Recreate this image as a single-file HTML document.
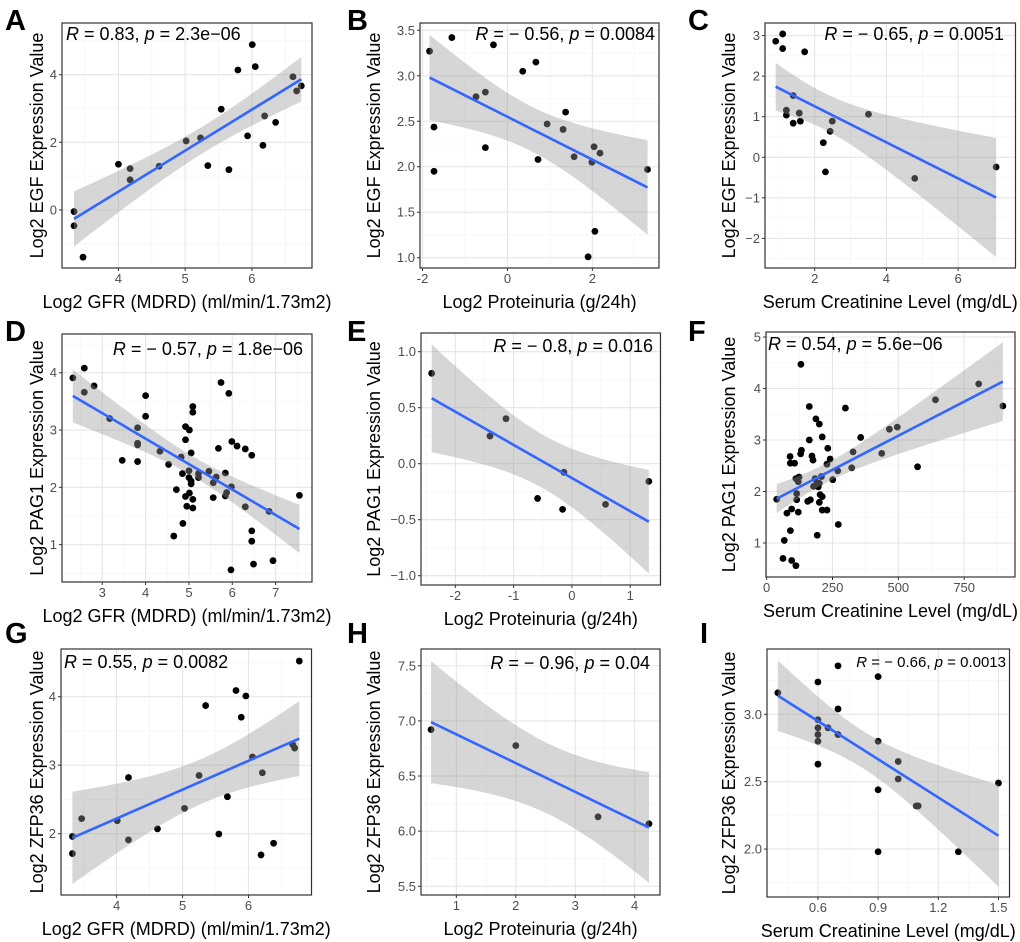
<!DOCTYPE html>
<html><head><meta charset="utf-8"><style>
html,body{margin:0;padding:0;background:#fff;}
svg{display:block;font-family:"Liberation Sans",Arial,sans-serif;}
</style></head><body>
<svg id="fig" width="1020" height="942" viewBox="0 0 1020 942" xmlns="http://www.w3.org/2000/svg"></svg>
<script>
// ---- data ----
const aX=[3.335,3.335,3.47,4.0,4.175,4.175,4.61,5.015,5.23,5.34,5.54,5.655,5.79,5.935,6.005,6.05,6.165,6.19,6.355,6.615,6.67,6.74];
const aY=[-0.05,-0.47,-1.40,1.35,1.22,0.89,1.29,2.04,2.13,1.31,2.98,1.19,4.14,2.19,4.89,4.24,1.91,2.78,2.59,3.94,3.52,3.67];
const bX=[-1.835,-1.73,-1.73,-1.31,-0.74,-0.52,-0.52,-0.33,0.36,0.67,0.72,0.935,1.31,1.37,1.57,1.90,1.99,2.04,2.06,2.18,3.30];
const bY=[3.27,2.436,1.95,3.42,2.77,2.82,2.21,3.34,3.05,3.15,2.08,2.47,2.41,2.60,2.11,1.01,2.05,2.22,1.29,2.15,1.97];
const cX=[0.912,1.107,1.107,1.21,1.21,1.40,1.40,1.57,1.60,1.72,2.24,2.30,2.43,2.49,3.50,4.79,7.06];
const cY=[2.86,3.04,2.68,1.16,1.04,1.52,0.84,1.09,0.89,2.60,0.36,-0.36,0.64,0.89,1.06,-0.52,-0.24];
const dX=[2.32,2.585,2.585,2.81,3.17,3.46,3.815,3.815,3.815,3.815,4.0,4.0,4.33,4.53,4.71,4.65,4.82,4.85,4.86,4.92,4.92,4.92,4.95,5.01,5.0,5.0,5.01,5.05,5.05,5.05,5.09,5.09,5.09,5.09,5.22,5.22,5.46,5.56,5.56,5.63,5.68,5.74,5.84,5.84,5.87,5.92,5.97,5.98,5.99,6.11,6.30,6.30,6.45,6.45,6.45,6.49,6.85,6.94,7.55];
const dY=[3.91,4.08,3.66,3.77,3.20,2.47,3.04,2.77,2.74,2.45,3.60,3.24,2.63,2.40,1.96,1.15,2.53,2.24,1.37,3.06,2.83,1.84,1.67,3.00,2.29,2.17,1.90,2.60,2.11,2.06,3.41,3.31,1.79,1.64,2.17,2.24,2.28,1.82,2.08,2.18,2.68,3.83,2.25,1.85,1.91,3.64,0.56,2.01,2.80,2.72,2.67,1.66,2.56,1.24,1.06,0.66,1.58,0.72,1.86];
const eX=[-2.406,-1.406,-1.131,-0.589,-0.16,-0.137,0.577,1.32];
const eY=[0.807,0.247,0.402,-0.31,-0.408,-0.077,-0.363,-0.158];
const fX=[38,130,162,187,200,162,211,62,67,77,90,89,90,95,95,111,106,111,114,114,120,123,120,129,132,156,166,172,176,178,184,190,192,196,200,200,203,208,211,211,232,229,229,241,251,270,272,299,323,328,357,437,466,496,573,641,805,897];
const fY=[1.85,4.47,3.65,3.41,3.31,3.0,3.06,0.70,1.05,1.58,1.24,2.68,2.55,1.66,0.66,0.56,2.55,2.25,1.96,1.84,2.19,2.28,1.60,2.73,2.80,1.81,1.84,2.69,2.61,2.10,2.25,2.16,1.15,2.09,1.79,2.16,1.94,2.29,1.90,1.64,2.84,1.64,2.53,2.63,2.23,2.40,1.36,3.62,2.46,2.77,3.05,2.74,3.21,3.25,2.48,3.78,4.09,3.66];
const gX=[3.33,3.33,3.47,4.01,4.18,4.18,4.62,5.03,5.25,5.35,5.55,5.68,5.81,5.89,5.96,6.06,6.19,6.21,6.38,6.67,6.70,6.77];
const gY=[1.96,1.71,2.22,2.19,2.82,1.91,2.07,2.37,2.85,3.87,1.995,2.54,4.09,3.70,4.01,3.12,1.69,2.89,1.86,3.30,3.25,4.52];
const hX=[0.574,2.0,3.384,4.241];
const hY=[6.921,6.776,6.130,6.067];
const iX=[0.40,0.6,0.6,0.6,0.6,0.6,0.6,0.65,0.70,0.70,0.70,0.9,0.9,0.9,0.9,1.0,1.0,1.09,1.10,1.30,1.5];
const iY=[3.16,3.24,2.96,2.90,2.85,2.80,2.63,2.90,3.36,3.04,2.85,3.28,2.80,2.44,1.98,2.65,2.52,2.32,2.32,1.98,2.49];
// tick labels
const ticksA_x=[4,5,6], ticksA_y=[0,2,4];
const ticksB_x=[-2,0,2], ticksB_y=[1.0,1.5,2.0,2.5,3.0,3.5];
const ticksC_x=[2,4,6], ticksC_y=[-2,-1,0,1,2,3];
const ticksD_x=[3,4,5,6,7], ticksD_y=[1,2,3,4];
const ticksE_x=[-2,-1,0,1], ticksE_y=[-1.0,-0.5,0.0,0.5,1.0];
const ticksF_x=[0,250,500,750], ticksF_y=[1,2,3,4,5];
const ticksG_x=[4,5,6], ticksG_y=[2,3,4];
const ticksH_x=[1,2,3,4], ticksH_y=[5.5,6.0,6.5,7.0,7.5];
const ticksI_x=[0.6,0.9,1.2,1.5], ticksI_y=[2.0,2.5,3.0];
const statR=["0.83","− 0.56","− 0.65","− 0.57","− 0.8","0.54","0.55","− 0.96","− 0.66"];
const statP=["2.3e−06","0.0084","0.0051","1.8e−06","0.016","5.6e−06","0.0082","0.04","0.0013"];

const NS="http://www.w3.org/2000/svg";
const svg=document.getElementById('fig');
function mk(tag,attrs,parent){const e=document.createElementNS(NS,tag);for(const k in attrs)e.setAttribute(k,attrs[k]);(parent||svg).appendChild(e);return e;}

function tq(df){const z=1.959964;const z3=z*z*z,z5=z3*z*z,z7=z5*z*z;
 return z+(z3+z)/(4*df)+(5*z5+16*z3+3*z)/(96*df*df)+(3*z7+19*z5+17*z3-15*z)/(384*df*df*df);}

function panel(cfg){
 const g=mk('g',{});
 
 
 const [L,R,T,B]=cfg.box;
 const sx=v=>L+(v-cfg.xd[0])/(cfg.xd[1]-cfg.xd[0])*(R-L);
 const sy=v=>B-(v-cfg.yd[0])/(cfg.yd[1]-cfg.yd[0])*(B-T);
 const clipId='clip'+cfg.letter;
 const cp=mk('clipPath',{id:clipId},g);mk('rect',{x:L,y:T,width:R-L,height:B-T},cp);
 // gridlines
 function minors(t,d){const s=t[1]-t[0];const m=[t[0]-s/2];t.forEach(v=>m.push(v+s/2));return m.filter(v=>v>d[0]&&v<d[1]);}
 const grid=mk('g',{},g);
 
 
 minors(cfg.tx,cfg.xd).forEach(v=>mk('line',{x1:sx(v),x2:sx(v),y1:T,y2:B,stroke:'#f3f3f3','stroke-width':0.6},grid));
 minors(cfg.ty,cfg.yd).forEach(v=>mk('line',{y1:sy(v),y2:sy(v),x1:L,x2:R,stroke:'#f3f3f3','stroke-width':0.6},grid));
 cfg.tx.forEach(v=>mk('line',{x1:sx(v),x2:sx(v),y1:T,y2:B,stroke:'#e6e6e6','stroke-width':1.1},grid));
 cfg.ty.forEach(v=>mk('line',{y1:sy(v),y2:sy(v),x1:L,x2:R,stroke:'#e6e6e6','stroke-width':1.1},grid));
 // points
 const pts=mk('g',{'clip-path':'url(#'+clipId+')'},g);
 
 
 cfg.x.forEach((xv,i)=>{const c=mk('circle',{cx:sx(xv),cy:sy(cfg.y[i]),r:3.4,fill:'#000'},pts);
  
  });
 // regression + CI
 const n=cfg.x.length;const mx=cfg.x.reduce((a,b)=>a+b)/n,my=cfg.y.reduce((a,b)=>a+b)/n;
 let sxx=0,sxy=0;cfg.x.forEach((xv,i)=>{sxx+=(xv-mx)**2;sxy+=(xv-mx)*(cfg.y[i]-my);});
 const b1=sxy/sxx,b0=my-b1*mx;let sse=0;cfg.x.forEach((xv,i)=>{sse+=(cfg.y[i]-b0-b1*xv)**2;});
 const s=Math.sqrt(sse/(n-2)),t=tq(n-2);
 const x0=Math.min(...cfg.x),x1=Math.max(...cfg.x);
 const up=[],lo=[];for(let k=0;k<=80;k++){const xv=x0+(x1-x0)*k/80;const f=b0+b1*xv;const se=s*Math.sqrt(1/n+(xv-mx)**2/sxx);
  up.push(sx(xv).toFixed(2)+','+sy(f+t*se).toFixed(2));lo.unshift(sx(xv).toFixed(2)+','+sy(f-t*se).toFixed(2));}
 const rib=mk('polygon',{points:up.concat(lo).join(' '),fill:'#999999','fill-opacity':0.4,'clip-path':'url(#'+clipId+')'},g);
 
 
 const ln=mk('line',{x1:sx(x0),y1:sy(b0+b1*x0),x2:sx(x1),y2:sy(b0+b1*x1),stroke:'#3366FF','stroke-width':2.6},g);
 
 
 // border
 const bd=mk('rect',{x:L,y:T,width:R-L,height:B-T,fill:'none',stroke:'#333','stroke-width':1.2},g);
 
 
 // ticks
 const tk=mk('g',{'font-size':13,fill:'#4d4d4d'},g);
 
 
 cfg.tx.forEach(v=>{mk('line',{x1:sx(v),x2:sx(v),y1:B,y2:B+3,stroke:'#333','stroke-width':1},tk);
  const tt=mk('text',{x:sx(v),y:B+15,'text-anchor':'middle'},tk);tt.textContent=cfg.fx(v);});
 cfg.ty.forEach(v=>{mk('line',{x1:L-3,x2:L,y1:sy(v),y2:sy(v),stroke:'#333','stroke-width':1},tk);
  const tt=mk('text',{x:L-5,y:sy(v)+4.5,'text-anchor':'end'},tk);tt.textContent=cfg.fy(v).replace('-','−');});
 // axis titles
 const xt=mk('text',{x:(L+R)/2,y:B+40,'text-anchor':'middle','font-size':18,fill:'#000'},g);
 xt.textContent=cfg.xlab;
 
 
 const yc=cfg.ytx,ycy=(T+B)/2;
 const yt=mk('text',{x:yc,y:ycy,'text-anchor':'middle','font-size':18,fill:'#000',transform:'rotate(-90 '+yc+' '+ycy+')'},g);
 yt.textContent=cfg.ylab;
 
 
 // stats annotation
 const an=mk('text',{x:cfg.ax,y:cfg.ay,'text-anchor':cfg.anchor,'font-size':cfg.afs||18,fill:'#000'},g);
 
 
 const t1=mk('tspan',{'font-style':'italic'},an);t1.textContent='R';
 const t2=mk('tspan',{},an);t2.textContent=' = '+cfg.r+', ';
 const t3=mk('tspan',{'font-style':'italic'},an);t3.textContent='p';
 const t4=mk('tspan',{},an);t4.textContent=' = '+cfg.p;
 // letter
 const lt=mk('text',{x:cfg.lx,y:cfg.ly,'font-size':29,'font-weight':'bold',fill:'#000'},g);
 lt.textContent=cfg.letter;
 
 
}
const f0=v=>String(v), f1=v=>v.toFixed(1);
const gfr="Log2 GFR (MDRD) (ml/min/1.73m2)", prot="Log2 Proteinuria (g/24h)", scr="Serum Creatinine Level (mg/dL)";
panel({letter:'A',box:[62,312,23,268],xd:[3.155,6.9],yd:[-1.72,5.53],x:aX,y:aY,tx:ticksA_x,ty:ticksA_y,fx:f0,fy:f0,xlab:gfr,ylab:'Log2 EGF Expression Value',ytx:43,r:statR[0],p:statP[0],ax:66,ay:40,anchor:'start',lx:5,ly:30});
panel({letter:'B',box:[420,659,23,268],xd:[-2.06,3.57],yd:[0.887,3.58],x:bX,y:bY,tx:ticksB_x,ty:ticksB_y,fx:f0,fy:f1,xlab:prot,ylab:'Log2 EGF Expression Value',ytx:380,r:statR[1],p:statP[1],ax:655,ay:40,anchor:'end',lx:347,ly:30});
panel({letter:'C',box:[765,1015.5,23,268],xd:[0.614,7.6],yd:[-2.73,3.31],x:cX,y:cY,tx:ticksC_x,ty:ticksC_y,fx:f0,fy:f0,xlab:scr,ylab:'Log2 EGF Expression Value',ytx:735,r:statR[2],p:statP[2],ax:1004,ay:40,anchor:'end',lx:688,ly:30});
panel({letter:'D',box:[62,312,334,582],xd:[2.07,7.84],yd:[0.348,4.676],x:dX,y:dY,tx:ticksD_x,ty:ticksD_y,fx:f0,fy:f0,xlab:gfr,ylab:'Log2 PAG1 Expression Value',ytx:43,r:statR[3],p:statP[3],ax:303,ay:355,anchor:'end',lx:5,ly:341});
panel({letter:'E',box:[421,660.5,333,585],xd:[-2.589,1.52],yd:[-1.083,1.167],x:eX,y:eY,tx:ticksE_x,ty:ticksE_y,fx:f0,fy:f1,xlab:prot,ylab:'Log2 PAG1 Expression Value',ytx:380,r:statR[4],p:statP[4],ax:653,ay:352,anchor:'end',lx:347,ly:341});
panel({letter:'F',box:[766,1015,332,577],xd:[-2.5,943],yd:[0.34,5.097],x:fX,y:fY,tx:ticksF_x,ty:ticksF_y,fx:f0,fy:f0,xlab:scr,ylab:'Log2 PAG1 Expression Value',ytx:735,r:statR[5],p:statP[5],ax:768,ay:350,anchor:'start',lx:688,ly:341});
panel({letter:'G',box:[61,311.5,649,895],xd:[3.157,6.955],yd:[1.105,4.696],x:gX,y:gY,tx:ticksG_x,ty:ticksG_y,fx:f0,fy:f0,xlab:gfr,ylab:'Log2 ZFP36 Expression Value',ytx:43,r:statR[6],p:statP[6],ax:64,ay:668,anchor:'start',lx:5,ly:643});
panel({letter:'H',box:[421,660,649,895],xd:[0.405,4.426],yd:[5.421,7.652],x:hX,y:hY,tx:ticksH_x,ty:ticksH_y,fx:f0,fy:f1,xlab:prot,ylab:'Log2 ZFP36 Expression Value',ytx:380,r:statR[7],p:statP[7],ax:650,ay:669,anchor:'end',lx:347,ly:643});
panel({letter:'I',box:[767,1009.5,649,897],xd:[0.346,1.555],yd:[1.644,3.485],x:iX,y:iY,tx:ticksI_x,ty:ticksI_y,fx:f1,fy:f1,xlab:scr,ylab:'Log2 ZFP36 Expression Value',ytx:735,r:statR[8],p:statP[8],ax:1006,ay:667,anchor:'end',afs:15,lx:700,ly:643});
</script>
</body></html>
